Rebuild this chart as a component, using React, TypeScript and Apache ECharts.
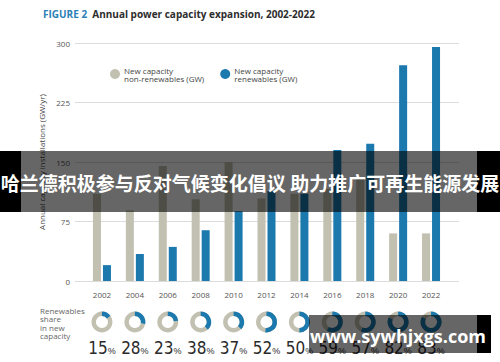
import React, { useEffect, useRef } from "react";
import * as echarts from "echarts";

const years = ["2002", "2004", "2006", "2008", "2010", "2012", "2014", "2016", "2018", "2020", "2022"];
const nonRenewables = [110, 89, 145, 103, 150, 104, 110, 116, 130, 60, 60];
const renewables = [20, 34, 43, 64, 88, 113, 110, 165, 173, 272, 295];
const sharePct = [15, 28, 23, 38, 37, 52, 50, 59, 57, 82, 83];
const yTicks = [0, 75, 150, 225, 300];

const GREY = "#c2c0b0";
const BLUE = "#1b79ae";

export default function App() {
  const ref = useRef<HTMLDivElement>(null);
  useEffect(() => {
    const chart = echarts.init(ref.current!, null, { renderer: "svg" });
    const font = "'Open Sans', 'Noto Sans', sans-serif";
    chart.setOption({
      animation: false,
      backgroundColor: "#ffffff",
      textStyle: { fontFamily: font },
      title: {
        text: "FIGURE 2  {b|Annual power capacity expansion, 2002-2022}",
        left: 38,
        top: 4,
        textStyle: {
          fontSize: 10,
          fontWeight: "bold",
          color: "#2c80b6",
          fontFamily: font,
          rich: { b: { fontSize: 10, fontWeight: "bold", color: "#2d2d2d", fontFamily: font } },
        },
      },
      legend: {
        left: 105,
        top: 61,
        itemWidth: 10,
        itemHeight: 10,
        itemGap: 16,
        icon: "circle",
        textStyle: { fontSize: 8, color: "#444", lineHeight: 8, fontFamily: font, padding: [0, 0, 0, -1] },
        data: ["New capacity\nnon-renewables (GW)", "New capacity\nrenewables (GW)"],
      },
      grid: [
        { left: 75, right: 41, top: 43, bottom: 81 },
        { left: 85.5, right: 52.5, top: 43, bottom: 81 },
      ],
      xAxis: [
        { type: "value", gridIndex: 0, show: false, min: 0, max: 1 },
        {
          type: "category",
          gridIndex: 1,
          data: years,
          axisLine: { show: false },
          axisTick: { show: false },
          axisLabel: { fontSize: 8, color: "#555", margin: 9, fontFamily: font },
        },
      ],
      yAxis: [
        {
          type: "value",
          gridIndex: 0,
          min: yTicks[0],
          max: yTicks[yTicks.length - 1],
          interval: yTicks[1] - yTicks[0],
          axisLine: { show: false },
          axisTick: { show: false },
          axisLabel: { fontSize: 8, color: "#555", margin: 5, fontFamily: font },
          splitLine: { lineStyle: { color: "#dcdcdc", width: 1 } },
          name: "Annual capacity installations (GW/yr)",
          nameLocation: "middle",
          nameGap: 25,
          nameTextStyle: { fontSize: 8, color: "#444", fontFamily: font },
        },
        { type: "value", gridIndex: 1, min: 0, max: 300, interval: 75, show: false },
      ],
      series: [
        {
          name: "New capacity\nnon-renewables (GW)",
          type: "bar",
          xAxisIndex: 1,
          yAxisIndex: 1,
          data: nonRenewables,
          barWidth: 8,
          barGap: "25%",
          itemStyle: { color: GREY },
        },
        {
          name: "New capacity\nrenewables (GW)",
          type: "bar",
          xAxisIndex: 1,
          yAxisIndex: 1,
          data: renewables,
          barWidth: 8,
          itemStyle: { color: BLUE },
        },
        {
          type: "custom",
          xAxisIndex: 1,
          yAxisIndex: 1,
          clip: false,
          silent: true,
          data: sharePct.map((p, i) => [i, p]),
          renderItem: (params: any, api: any) => {
            const pt = api.coord([api.value(0), 0]);
            const cx = pt[0];
            const cy = pt[1] + 41;
            const p = api.value(1) as number;
            const start = -Math.PI / 2;
            return {
              type: "group",
              children: [
                { type: "ring", shape: { cx, cy, r: 10.5, r0: 6 }, style: { fill: GREY } },
                {
                  type: "sector",
                  shape: { cx, cy, r: 10.5, r0: 6, startAngle: start, endAngle: start + (2 * Math.PI * p) / 100, clockwise: true },
                  style: { fill: BLUE },
                },
                {
                  type: "text",
                  style: {
                    x: cx,
                    y: cy + 26,
                    text: p + "{s|%}",
                    align: "center",
                    verticalAlign: "middle",
                    fontSize: 17,
                    fontFamily: "'Liberation Sans Narrow', 'DejaVu Sans Condensed', sans-serif",
                    fill: "#2a2a2a",
                    rich: {
                      s: { fontSize: 9, fill: "#2a2a2a", fontFamily: "'Liberation Sans Narrow', sans-serif", padding: [5, 0, 0, 0] },
                    },
                  },
                },
              ],
            };
          },
        },
      ],
      graphic: [
        {
          type: "text",
          left: 40,
          top: 306,
          style: {
            text: "Renewables\nshare\nin new\ncapacity",
            fontSize: 8,
            lineHeight: 8.5,
            fill: "#666",
            fontFamily: font,
          },
        },
        { type: "rect", shape: { x: 21, y: 151, width: 456, height: 61 }, style: { fill: "rgba(0,0,0,0.6)" }, z: 100 },
        { type: "rect", shape: { x: 0, y: 151, width: 21, height: 61 }, style: { fill: "#000" }, z: 100 },
        { type: "rect", shape: { x: 477, y: 151, width: 23, height: 61 }, style: { fill: "#000" }, z: 100 },
        {
          type: "text",
          z: 101,
          style: {
            x: 250,
            y: 182,
            text: "哈兰德积极参与反对气候变化倡议 助力推广可再生能源发展",
            align: "center",
            verticalAlign: "middle",
            fontSize: 19,
            fontWeight: "bold",
            fill: "#fff",
            fontFamily: "'Noto Sans CJK SC', sans-serif",
          },
        },
        { type: "rect", shape: { x: 309, y: 315, width: 168, height: 38 }, style: { fill: "rgba(0,0,0,0.6)" }, z: 100 },
        { type: "rect", shape: { x: 477, y: 315, width: 14, height: 38 }, style: { fill: "#000" }, z: 100 },
        {
          type: "text",
          z: 101,
          style: {
            x: 398,
            y: 336,
            text: "www.sywhjxgs.com",
            align: "center",
            verticalAlign: "middle",
            fontSize: 18,
            fontWeight: "bold",
            fill: "#fff",
            fontFamily: "'Open Sans', sans-serif",
          },
        },
      ],
    });
    return () => chart.dispose();
  }, []);
  return <div ref={ref} style={{ width: 500, height: 362, position: "absolute", left: 0, top: 0 }} />;
}
